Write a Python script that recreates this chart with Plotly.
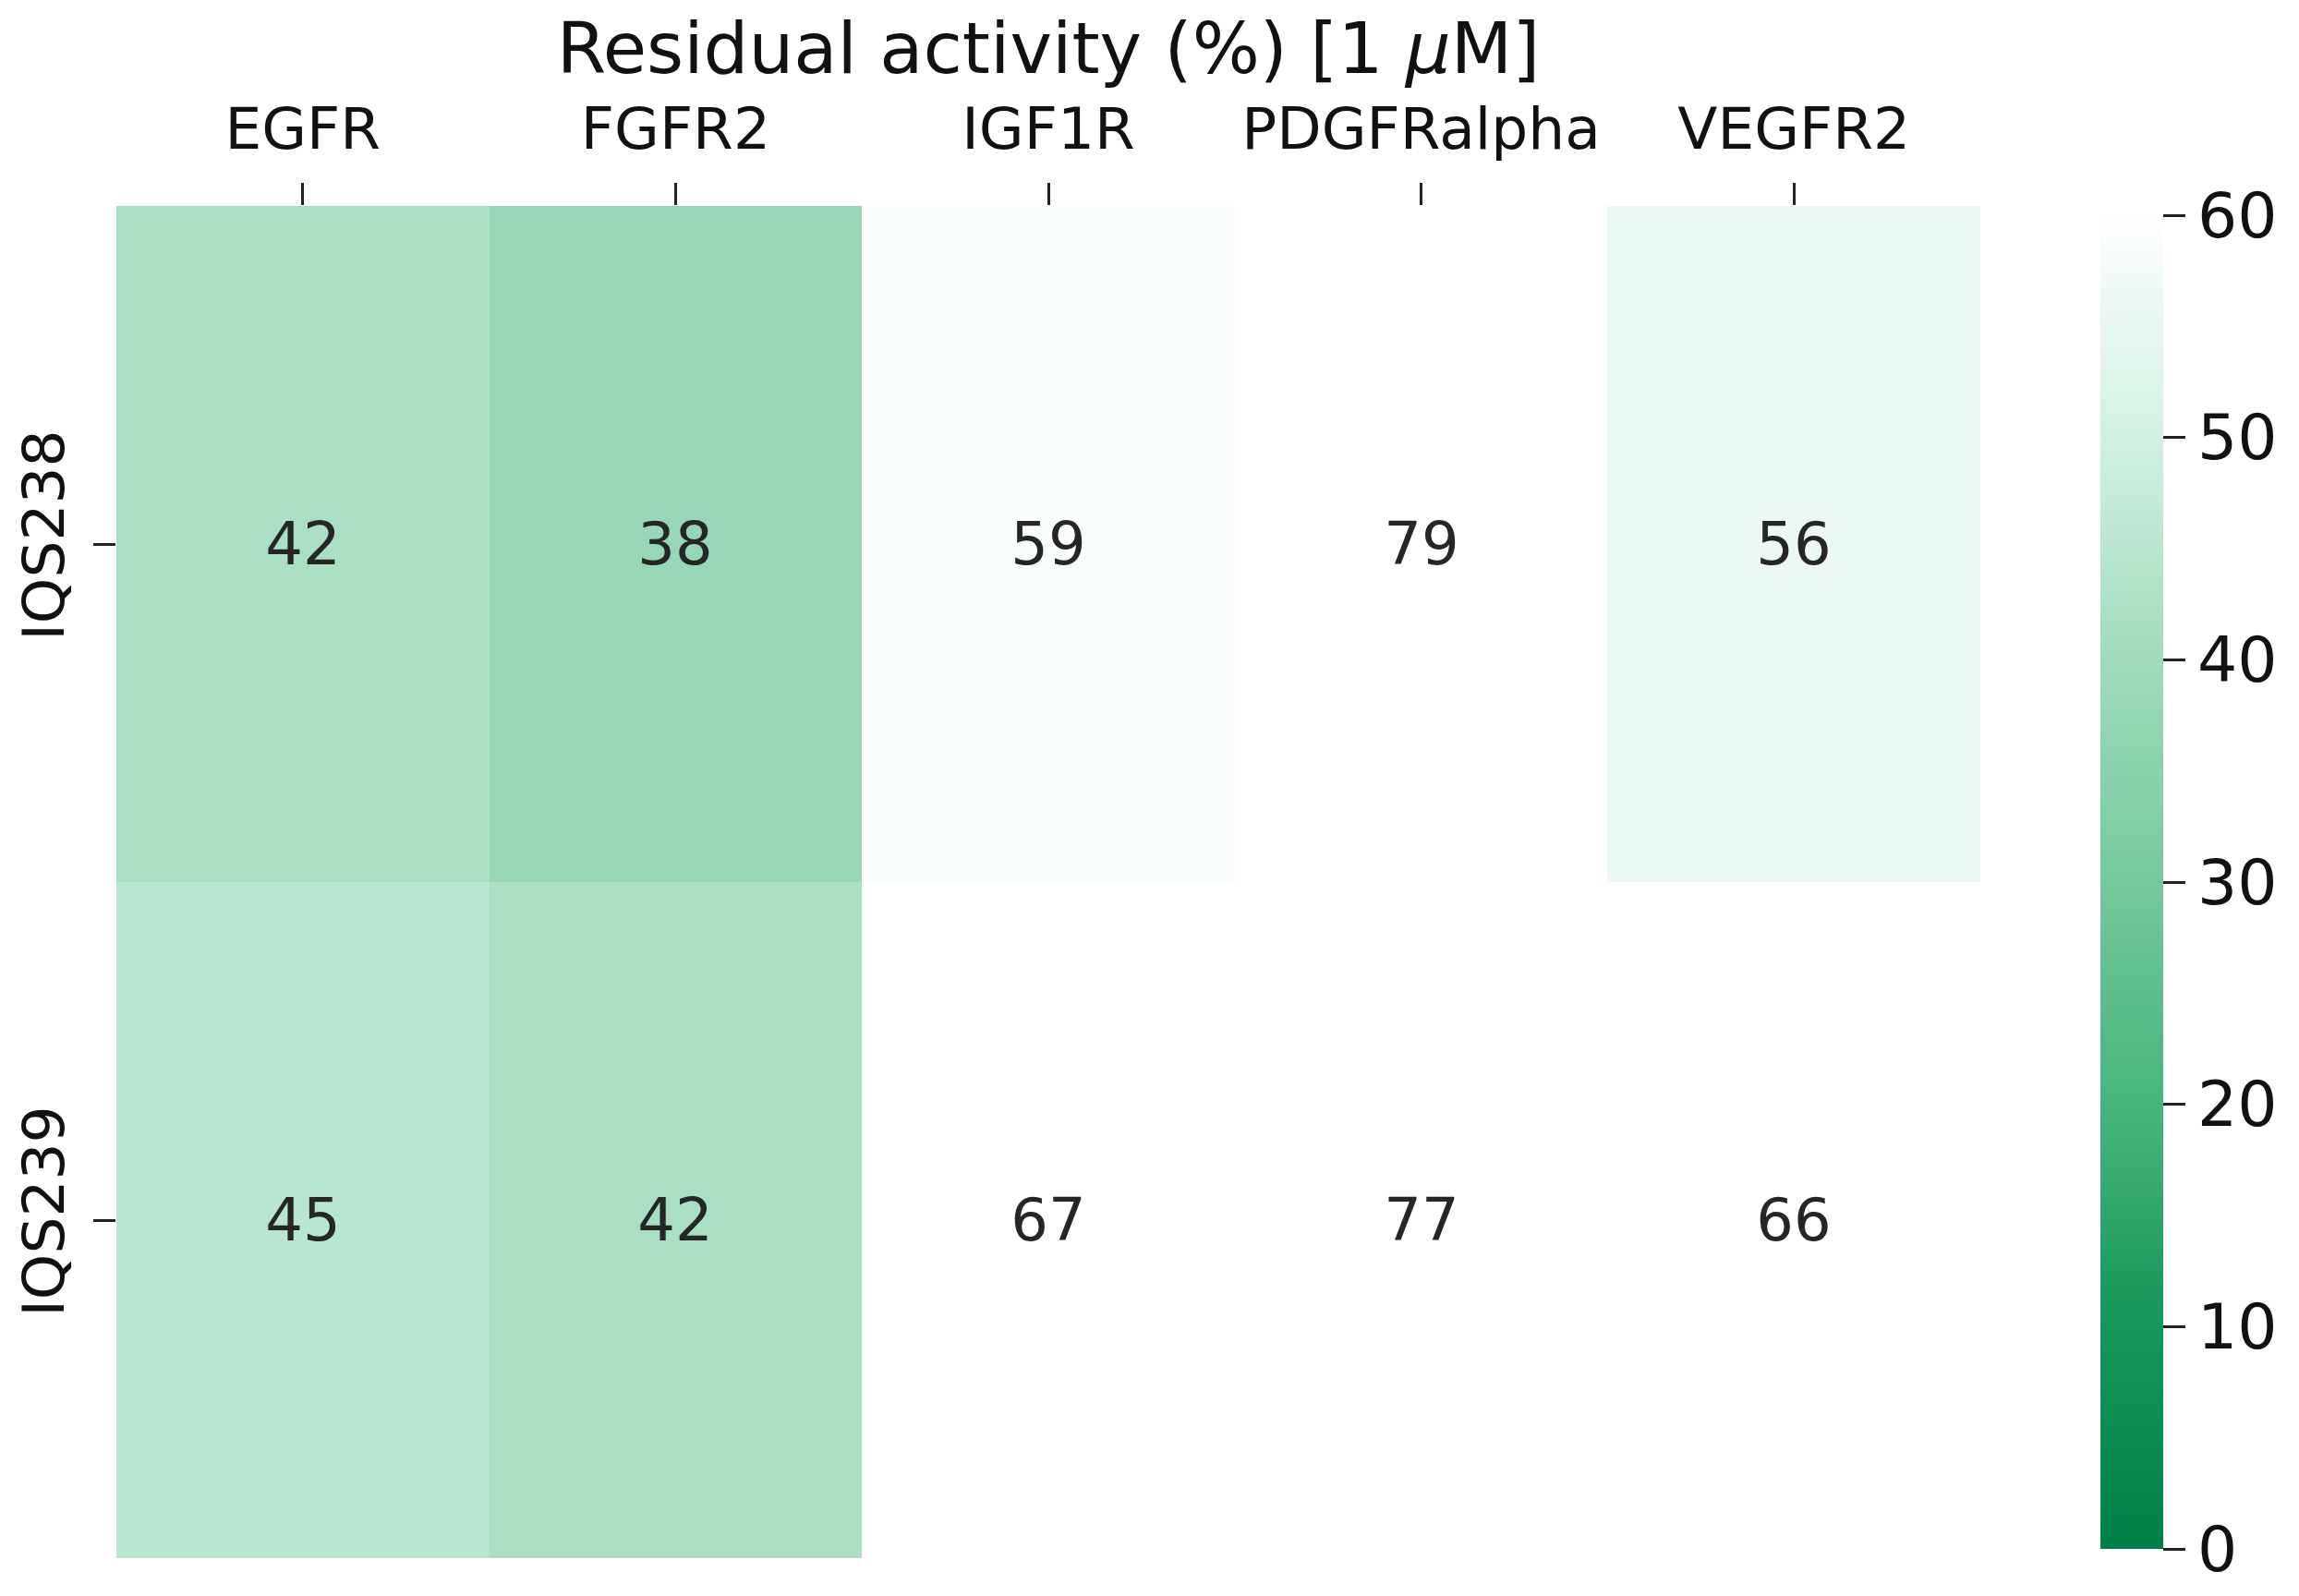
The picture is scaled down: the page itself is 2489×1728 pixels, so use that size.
import plotly.graph_objects as go

kinases = ["EGFR", "FGFR2", "IGF1R", "PDGFRalpha", "VEGFR2"]
compounds = ["IQS238", "IQS239"]
iqs238 = [42, 38, 59, 79, 56]
iqs239 = [45, 42, 67, 77, 66]
cbar_ticks = [0, 10, 20, 30, 40, 50, 60]

z = [iqs238, iqs239]

colorscale = [
    [0.0, "rgb(0,128,72)"],
    [1/6, "rgb(22,150,90)"],
    [2/6, "rgb(72,180,125)"],
    [3/6, "rgb(117,200,157)"],
    [4/6, "rgb(160,219,189)"],
    [5/6, "rgb(210,240,226)"],
    [1.0, "rgb(254,255,254)"],
]

W, H = 2489, 1728
L, R, T, B = 118, 2136, 215, 1679
pw = R - L

fig = go.Figure(go.Heatmap(
    z=z, x=kinases, y=compounds,
    zmin=0, zmax=60, colorscale=colorscale,
    texttemplate="%{z}",
    textfont=dict(family="DejaVu Sans", size=64, color="#262626"),
    colorbar=dict(
        thickness=68, thicknessmode="pixels",
        len=1, lenmode="fraction", y=0.5, yanchor="middle",
        x=(2266 - L) / pw, xanchor="left", xpad=0,
        outlinewidth=0,
        tickvals=cbar_ticks, ticks="outside", ticklen=24, tickwidth=3,
        tickcolor="#222",
        tickfont=dict(family="DejaVu Sans", size=68, color="#111"),
    ),
    hoverinfo="skip",
))

fig.update_layout(
    width=W, height=H,
    margin=dict(l=L, r=W - R, t=T, b=H - B, pad=0, autoexpand=False),
    paper_bgcolor="white", plot_bgcolor="white",
    title=dict(
        text="Residual activity (%) [1 <i>μ</i>M]",
        x=(L + R) / 2 / W, xanchor="center",
        y=1 - 44 / H, yanchor="middle",
        font=dict(family="DejaVu Sans", size=77, color="#111"),
    ),
    xaxis=dict(
        side="top", ticks="outside", ticklen=24, tickwidth=3, tickcolor="#222",
        tickfont=dict(family="DejaVu Sans", size=63, color="#111"),
        ticklabelstandoff=12, showgrid=False, zeroline=False, showline=False,
        automargin=False,
    ),
    yaxis=dict(
        autorange="reversed", ticks="outside", ticklen=24, tickwidth=3,
        tickcolor="#222", tickangle=-90,
        tickfont=dict(family="DejaVu Sans", size=63, color="#111"),
        ticklabelstandoff=7, showgrid=False, zeroline=False, showline=False,
        automargin=False,
    ),
)

fig.write_html("out.html")
